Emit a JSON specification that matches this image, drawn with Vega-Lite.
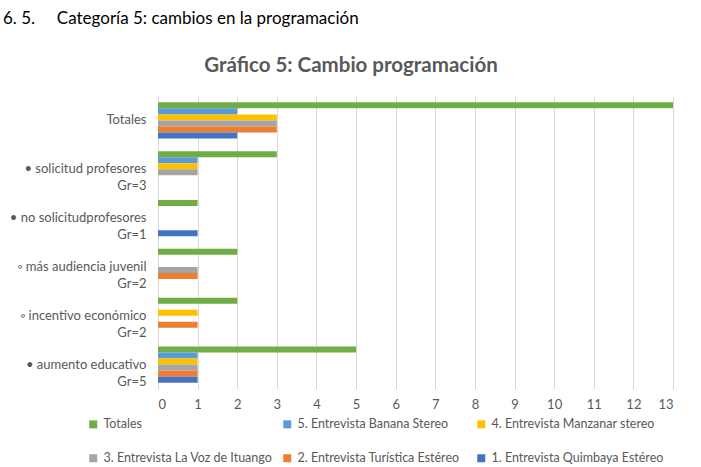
{
  "$schema": "https://vega.github.io/schema/vega-lite/v6.json",
  "background": "white",
  "padding": {"left": 3, "top": 9, "right": 5, "bottom": 0},
  "title": {
    "text": "6. 5.\u00a0\u00a0\u00a0\u00a0\u00a0Categoría 5: cambios en la programación",
    "anchor": "start",
    "font": "Lato",
    "fontSize": 17,
    "fontWeight": "normal",
    "color": "#000000",
    "offset": 28
  },
  "config": {
    "font": "Lato",
    "view": {"stroke": null}
  },
  "vconcat": [
    {
      "width": 515,
      "height": 293,
      "title": {
        "text": "Gráfico 5: Cambio programación",
        "anchor": "middle",
        "frame": "bounds",
        "dx": 13,
        "font": "Lato",
        "fontSize": 20.5,
        "fontWeight": "bold",
        "color": "#595959",
        "offset": 20
      },
      "data": {
        "values": [
          {"categoria": "Totales", "serie": "Totales", "valor": 13},
          {"categoria": "Totales", "serie": "5. Entrevista Banana Stereo", "valor": 2},
          {"categoria": "Totales", "serie": "4. Entrevista Manzanar stereo", "valor": 3},
          {"categoria": "Totales", "serie": "3. Entrevista La Voz de Ituango", "valor": 3},
          {"categoria": "Totales", "serie": "2. Entrevista Turística Estéreo", "valor": 3},
          {"categoria": "Totales", "serie": "1. Entrevista Quimbaya Estéreo", "valor": 2},
          {"categoria": "• solicitud profesores\nGr=3", "serie": "Totales", "valor": 3},
          {"categoria": "• solicitud profesores\nGr=3", "serie": "5. Entrevista Banana Stereo", "valor": 1},
          {"categoria": "• solicitud profesores\nGr=3", "serie": "4. Entrevista Manzanar stereo", "valor": 1},
          {"categoria": "• solicitud profesores\nGr=3", "serie": "3. Entrevista La Voz de Ituango", "valor": 1},
          {"categoria": "• solicitud profesores\nGr=3", "serie": "2. Entrevista Turística Estéreo", "valor": 0},
          {"categoria": "• solicitud profesores\nGr=3", "serie": "1. Entrevista Quimbaya Estéreo", "valor": 0},
          {"categoria": "• no solicitudprofesores\nGr=1", "serie": "Totales", "valor": 1},
          {"categoria": "• no solicitudprofesores\nGr=1", "serie": "5. Entrevista Banana Stereo", "valor": 0},
          {"categoria": "• no solicitudprofesores\nGr=1", "serie": "4. Entrevista Manzanar stereo", "valor": 0},
          {"categoria": "• no solicitudprofesores\nGr=1", "serie": "3. Entrevista La Voz de Ituango", "valor": 0},
          {"categoria": "• no solicitudprofesores\nGr=1", "serie": "2. Entrevista Turística Estéreo", "valor": 0},
          {"categoria": "• no solicitudprofesores\nGr=1", "serie": "1. Entrevista Quimbaya Estéreo", "valor": 1},
          {"categoria": "◦ más audiencia juvenil\nGr=2", "serie": "Totales", "valor": 2},
          {"categoria": "◦ más audiencia juvenil\nGr=2", "serie": "5. Entrevista Banana Stereo", "valor": 0},
          {"categoria": "◦ más audiencia juvenil\nGr=2", "serie": "4. Entrevista Manzanar stereo", "valor": 0},
          {"categoria": "◦ más audiencia juvenil\nGr=2", "serie": "3. Entrevista La Voz de Ituango", "valor": 1},
          {"categoria": "◦ más audiencia juvenil\nGr=2", "serie": "2. Entrevista Turística Estéreo", "valor": 1},
          {"categoria": "◦ más audiencia juvenil\nGr=2", "serie": "1. Entrevista Quimbaya Estéreo", "valor": 0},
          {"categoria": "◦ incentivo económico\nGr=2", "serie": "Totales", "valor": 2},
          {"categoria": "◦ incentivo económico\nGr=2", "serie": "5. Entrevista Banana Stereo", "valor": 0},
          {"categoria": "◦ incentivo económico\nGr=2", "serie": "4. Entrevista Manzanar stereo", "valor": 1},
          {"categoria": "◦ incentivo económico\nGr=2", "serie": "3. Entrevista La Voz de Ituango", "valor": 0},
          {"categoria": "◦ incentivo económico\nGr=2", "serie": "2. Entrevista Turística Estéreo", "valor": 1},
          {"categoria": "◦ incentivo económico\nGr=2", "serie": "1. Entrevista Quimbaya Estéreo", "valor": 0},
          {"categoria": "• aumento educativo\nGr=5", "serie": "Totales", "valor": 5},
          {"categoria": "• aumento educativo\nGr=5", "serie": "5. Entrevista Banana Stereo", "valor": 1},
          {"categoria": "• aumento educativo\nGr=5", "serie": "4. Entrevista Manzanar stereo", "valor": 1},
          {"categoria": "• aumento educativo\nGr=5", "serie": "3. Entrevista La Voz de Ituango", "valor": 1},
          {"categoria": "• aumento educativo\nGr=5", "serie": "2. Entrevista Turística Estéreo", "valor": 1},
          {"categoria": "• aumento educativo\nGr=5", "serie": "1. Entrevista Quimbaya Estéreo", "valor": 1}
        ]
      },
      "mark": {"type": "bar"},
      "encoding": {
        "y": {
          "field": "categoria",
          "type": "nominal",
          "sort": null,
          "scale": {"paddingInner": 0.26, "paddingOuter": 0.13},
          "axis": {
            "title": null,
            "domain": false,
            "ticks": false,
            "grid": false,
            "minExtent": 155,
            "labelPadding": 12,
            "labelFontSize": 13,
            "labelColor": "#595959",
            "labelLineHeight": 17,
            "labelLimit": 300,
            "labelExpr": "split(datum.label, '\\n')"
          }
        },
        "yOffset": {
          "field": "serie",
          "type": "nominal",
          "sort": null,
          "scale": {
            "domain": ["Totales", "5. Entrevista Banana Stereo", "4. Entrevista Manzanar stereo", "3. Entrevista La Voz de Ituango", "2. Entrevista Turística Estéreo", "1. Entrevista Quimbaya Estéreo"],
            "paddingInner": 0,
            "paddingOuter": 0
          }
        },
        "x": {
          "field": "valor",
          "type": "quantitative",
          "scale": {"domain": [0, 13], "nice": false},
          "axis": {
            "title": null,
            "values": [0, 1, 2, 3, 4, 5, 6, 7, 8, 9, 10, 11, 12, 13],
            "domain": false,
            "ticks": false,
            "gridColor": "#D9D9D9",
            "labelPadding": 9,
            "labelFontSize": 13,
            "labelColor": "#595959"
          }
        },
        "color": {
          "field": "serie",
          "type": "nominal",
          "scale": {
            "domain": ["Totales", "5. Entrevista Banana Stereo", "4. Entrevista Manzanar stereo", "3. Entrevista La Voz de Ituango", "2. Entrevista Turística Estéreo", "1. Entrevista Quimbaya Estéreo"],
            "range": ["#70AD47", "#5B9BD5", "#FFC000", "#A5A5A5", "#ED7D31", "#4472C4"]
          },
          "legend": {
            "title": null,
            "orient": "none",
            "legendX": -71,
            "legendY": 322,
            "direction": "horizontal",
            "columns": 3,
            "gridAlign": "all",
            "columnPadding": 5,
            "rowPadding": 21,
            "padding": 0,
            "symbolType": "square",
            "symbolSize": 64,
            "symbolStrokeWidth": 0,
            "labelFontSize": 12.5,
            "labelColor": "#595959",
            "labelLimit": 300
          }
        }
      }
    }
  ]
}
